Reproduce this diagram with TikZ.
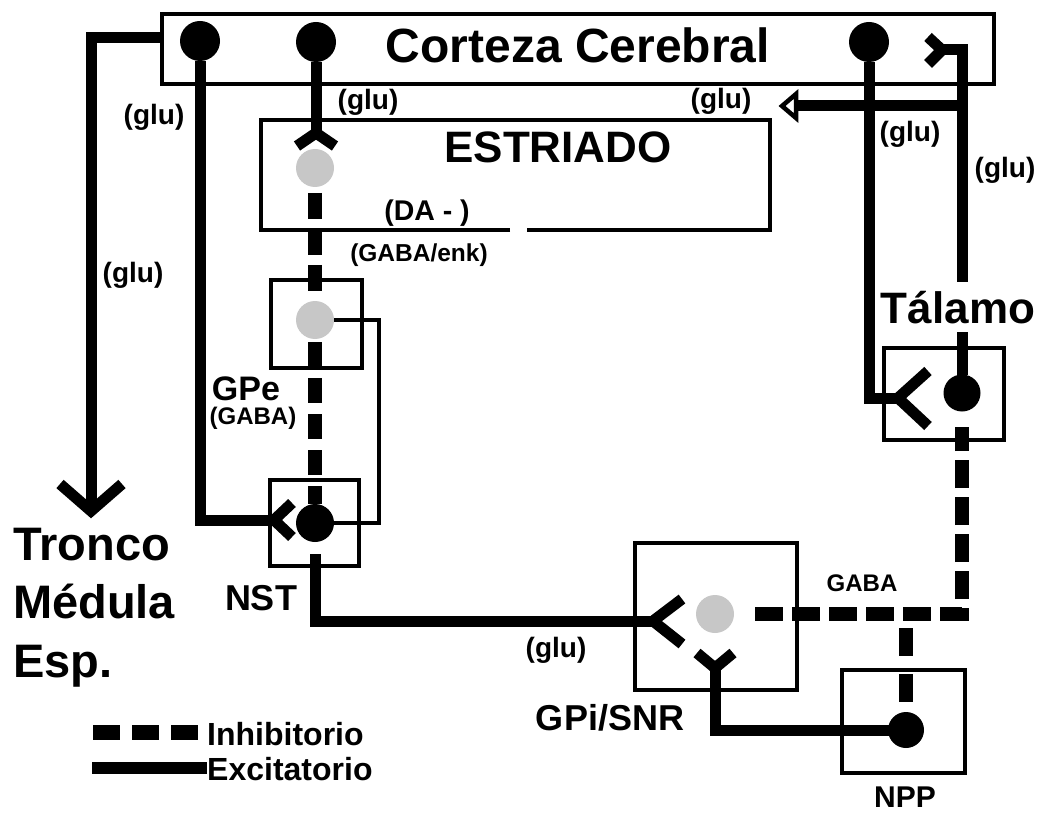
\documentclass[tikz,border=0pt]{standalone}
\usepackage{fontspec}
\setmainfont{Liberation Sans}
\newcommand\myfs[1]{\fontsize{#1}{#1}\selectfont}
\begin{document}
\begin{tikzpicture}[x=1pt,y=-1pt,
  box/.style={draw, line width=4.5pt, inner sep=0pt, outer sep=0pt},
  neuron/.style={circle, fill=black, inner sep=0pt, outer sep=0pt, minimum size=#1},
  neuron/.default=40pt,
  grayn/.style={circle, fill=black!22, inner sep=0pt, outer sep=0pt, minimum size=38pt},
  axon/.style={line width=11pt, line join=miter},
  fork/.style={line width=11pt, line join=miter, miter limit=10},
  inhib/.style={line width=14pt, dash pattern=on 26pt off 10pt},
  thinax/.style={line width=4.5pt, line join=miter},
  lbl/.style={font=\bfseries\myfs{#1}, inner sep=0pt},
  lbl/.default=28,
]
\useasboundingbox (0,0) rectangle (1046,834);
\fill[white] (0,0) rectangle (1046,834);

% ---------- boxes ----------
\node[box, minimum width=832pt, minimum height=70pt] (ctx) at (578,49) {};
\node[minimum width=509pt, minimum height=110pt, inner sep=0pt, outer sep=0pt] (str) at (515.5,175) {};
\draw[line width=4.5pt, line join=miter] (510,230) -- (str.south west) -- (str.north west) -- (str.north east) -- (str.south east) -- (527,230);
\node[box, minimum width=91pt, minimum height=88pt] (gpebox) at (316.5,324) {};
\node[box, minimum width=89pt, minimum height=86pt] (nstbox) at (314.5,523) {};
\node[box, minimum width=162pt, minimum height=147pt] (gpibox) at (716,616.5) {};
\node[box, minimum width=123pt, minimum height=103pt] (nppbox) at (903.5,721.5) {};
\node[box, minimum width=120pt, minimum height=92pt] (thbox) at (944,394) {};

% ---------- neurons ----------
\node[neuron] (c1) at (200,41) {};
\node[neuron] (c2) at (316,42) {};
\node[neuron] (c3) at (869,42) {};
\node[grayn] (s1) at (315,168) {};
\node[grayn] (gpe) at (315,320) {};
\node[neuron=38pt] (nst) at (315,523) {};
\node[grayn] (gpi) at (715,614) {};
\node[neuron=36pt] (npp) at (906,730) {};
\node[neuron=37pt] (th) at (962,393) {};

% ---------- coordinates ----------
\coordinate (ctxL) at (162,38);
\coordinate (tronTip) at (91,511);
\coordinate (nstFork) at (274,520);
\coordinate (strFork) at (316,133);
\coordinate (gpiFork) at (653,621);
\coordinate (gpiY) at (715,668);
\coordinate (thFork) at (898,398);
\coordinate (ctxRec) at (942,50);
\coordinate (thTop) at (962,50);
\coordinate (brStart) at (962,106);
\coordinate (brEnd) at (796,106);
\coordinate (brTip) at (782,106);
\coordinate (loopc) at (379,320);
\coordinate (gabaCorner) at (962,614);
\coordinate (gabaBranch) at (906,614);

% ---------- excitatory (solid) ----------
\draw[axon] (ctxL) -- (91,38) -- (tronTip);
\draw[fork] (60,484) -- (tronTip) -- (122,484);

\draw[axon] (c1) -- (c1 |- nstFork) -- (nstFork);
\draw[fork] (292,503) -- (nstFork) -- (292,537);

\draw[axon] (c2) -- (strFork);
\draw[fork] (297,146) -- (strFork) -- (335,146);

\draw[axon] (c3) -- (869,398) -- (thFork);
\draw[fork] (928,371) -- (thFork) -- (928,426);

\draw[axon] (brStart) -- (brEnd);
\draw[thinax, fill=white] (brTip) -- (796,94) -- (796,118) -- cycle;
\draw[axon] (th) -- (thTop) -- (ctxRec);
\draw[fork] (928,37) -- (ctxRec) -- (928,64);

\draw[axon, shorten <=12pt] (nst.south) -- (nst.south |- gpiFork) -- (gpiFork);
\draw[fork] (682,599) -- (gpiFork) -- (682,644);

\draw[axon] (npp.center) -| (gpiY);
\draw[fork] (697,653) -- (gpiY) -- (733,653);

\draw[thinax] (nst.east) -| (loopc) -- (gpe.east);

% ---------- inhibitory (dashed) ----------
\draw[inhib, shorten <=6pt] (s1.south) -- (gpe.north);
\draw[inhib, dash pattern=on 25pt off 11pt, shorten <=3pt] (gpe.south) -- (nst.north);
\draw[inhib, dash pattern=on 28pt off 9pt, shorten <=21pt, shorten >=15pt] (gpi.east) -- (gabaCorner) -- (th.south);
\draw[inhib, dash pattern=on 28pt off 18pt, shorten <=14pt, shorten >=6pt] (gabaBranch) -- (npp.north);

% ---------- labels ----------
\node[lbl=48] (ctxlbl) at (578,45) {Corteza Cerebral};
\node[lbl=44] (strlbl) at (558,147) {ESTRIADO};
\node[lbl=44, anchor=base, fill=white, inner ysep=9pt, inner xsep=2pt] (thlbl) at (958,323) {Tálamo};
\node[lbl] (g1) at (154,117) {(glu)};
\node[lbl] (g2) at (368,102) {(glu)};
\node[lbl] (g3) at (133,275) {(glu)};
\node[lbl] (g4) at (721,101) {(glu)};
\node[lbl] (g5) at (910,134) {(glu)};
\node[lbl] (g6) at (1005,170) {(glu)};
\node[lbl] (g7) at (556,650) {(glu)};
\node[lbl=28.5] (da) at (427,213) {(DA - )};
\node[lbl=24.5] (enk) at (419,255) {(GABA/enk)};
\node[lbl=34] (gpelbl) at (246,389) {GPe};
\node[lbl=24] (gpegaba) at (253,418) {(GABA)};
\node[lbl=36] (nstlbl) at (261,598) {NST};
\node[lbl=36] (gpilbl) at (610,718) {GPi/SNR};
\node[lbl=30] (npplbl) at (905,797) {NPP};
\node[lbl=24] (gaba) at (862,583) {GABA};
\node[lbl=47, anchor=base west] (tr1) at (13,560) {Tronco};
\node[lbl=47, anchor=base west] (tr2) at (13,618) {Médula};
\node[lbl=47, anchor=base west] (tr3) at (13,677) {Esp.};

% ---------- legend ----------
\node[lbl=32, anchor=base west] (inh) at (207,745) {Inhibitorio};
\node[lbl=32, anchor=base west] (exc) at (207,780) {Excitatorio};
\coordinate (inhL) at (93,732);
\coordinate (excL) at (92,768);
\draw[line width=15pt, dash pattern=on 27pt off 12pt] (inhL) -- (inhL -| inh.west);
\draw[line width=12pt] (excL) -- (excL -| exc.west);
\end{tikzpicture}
\end{document}
